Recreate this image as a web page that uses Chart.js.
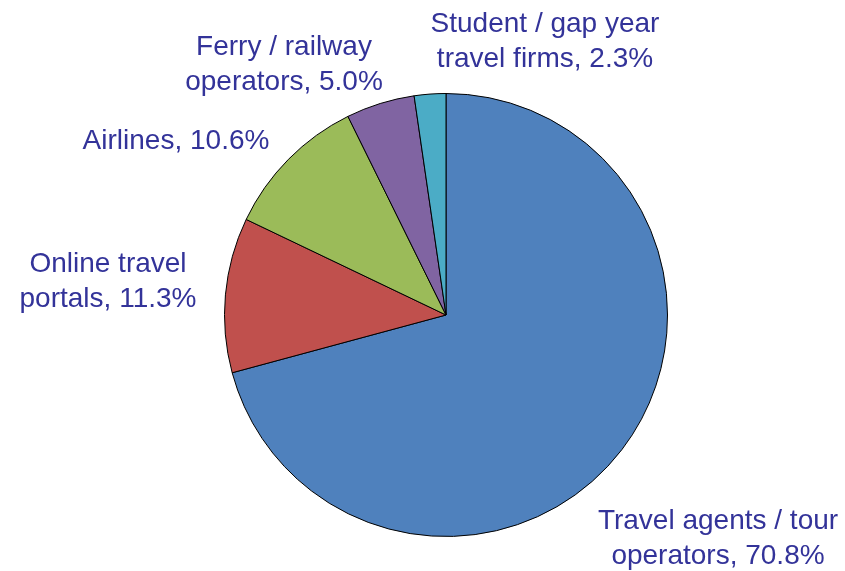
<!DOCTYPE html>
<html>
<head>
<meta charset="utf-8">
<script src="https://cdn.jsdelivr.net/npm/chart.js@4"></script>
<style>
  html, body { margin: 0; padding: 0; background: #fff; }
  #wrap { width: 845px; height: 571px; }
</style>
</head>
<body>
<div id="wrap"><canvas id="pieChart"></canvas></div>
<script>
const categories = [
  ['Travel agents / tour', 'operators'],
  ['Online travel', 'portals'],
  ['Airlines'],
  ['Ferry / railway', 'operators'],
  ['Student / gap year', 'travel firms']
];
const shares = [70.8, 11.3, 10.6, 5.0, 2.3];
const colors = ['#4F81BD', '#C0504D', '#9BBB59', '#8064A2', '#4BACC6'];

// ラベル位置 (円の中心からのずれ)
const labelOffsets = [
  [272, 224], [-338, -33], [-270, -174], [-162, -250], [99, -273]
];

const labelPlugin = {
  id: 'sliceLabels',
  afterDatasetsDraw(chart) {
    const arc = chart.getDatasetMeta(0).data[0];
    if (!arc) return;
    const ctx = chart.ctx;
    ctx.save();
    ctx.font = '28px "Liberation Sans", Arial, sans-serif';
    ctx.fillStyle = '#333399';
    ctx.textAlign = 'center';
    ctx.textBaseline = 'middle';
    categories.forEach((cat, i) => {
      const lines = cat.slice();
      lines[lines.length - 1] += ', ' + shares[i].toFixed(1) + '%';
      const cx = arc.x + labelOffsets[i][0];
      const cy = arc.y + labelOffsets[i][1];
      const lh = 35;
      const top = cy - (lines.length - 1) * lh / 2;
      lines.forEach((t, k) => ctx.fillText(t, cx, top + k * lh));
    });
    ctx.restore();
  }
};

new Chart(document.getElementById('pieChart'), {
  type: 'pie',
  data: {
    labels: categories.map(c => c.join(' ')),
    datasets: [{
      data: shares,
      backgroundColor: colors,
      borderColor: '#000000',
      borderWidth: 1
    }]
  },
  options: {
    responsive: true,
    maintainAspectRatio: false,
    animation: false,
    layout: { padding: { left: 224, right: 177, top: 93, bottom: 34 } },
    plugins: {
      legend: { display: false },
      tooltip: { enabled: false }
    }
  },
  plugins: [labelPlugin]
});
</script>
</body>
</html>
